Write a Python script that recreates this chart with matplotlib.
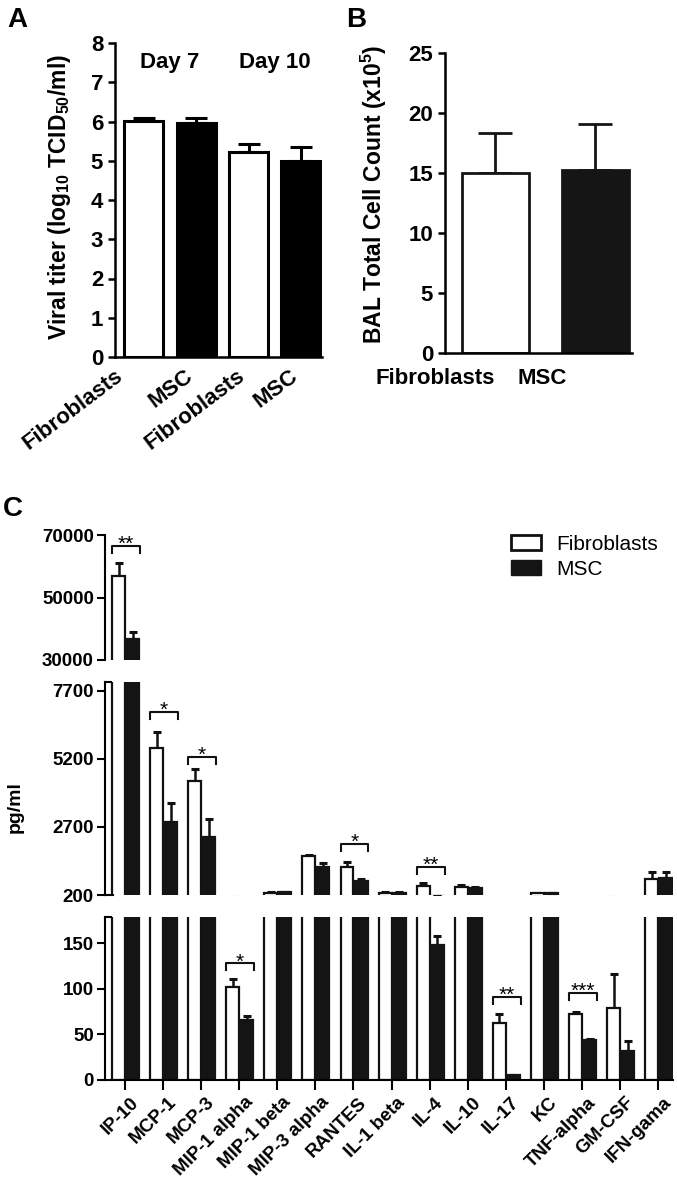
import matplotlib
matplotlib.use('Agg')
import matplotlib.pyplot as plt
import numpy as np
from matplotlib.patches import Patch
from matplotlib.transforms import ScaledTranslation

plt.rcParams.update({'font.family': ['Liberation Sans', 'DejaVu Sans'],
                     'font.weight': 'bold', 'axes.labelweight': 'bold',
                     'mathtext.default': 'regular',
                     'axes.linewidth': 1.8,
                     'xtick.major.width': 1.8, 'ytick.major.width': 1.8,
                     'xtick.direction': 'out', 'ytick.direction': 'out'})

# panel A - viral titer
a_labels = ['Fibroblasts', 'MSC', 'Fibroblasts', 'MSC']
a_values = [6.01, 5.97, 5.22, 4.99]
a_errors = [0.08, 0.12, 0.20, 0.37]
a_days = ['Day 7', 'Day 10']

# panel B - BAL cell count
b_labels = ['Fibroblasts', 'MSC']
b_values = [15.0, 15.25]
b_errors = [3.3, 3.85]

# panel C - cytokines (pg/ml)
c_cats = ['IP-10', 'MCP-1', 'MCP-3', 'MIP-1 alpha', 'MIP-1 beta', 'MIP-3 alpha',
          'RANTES', 'IL-1 beta', 'IL-4', 'IL-10', 'IL-17', 'KC', 'TNF-alpha',
          'GM-CSF', 'IFN-gama']
c_fib = [57000, 5600, 4390, 102, 280, 1630, 1230, 290, 530, 490, 63, 270, 72.5, 79, 800]
c_fib_err = [4000, 590, 440, 9, 20, 40, 180, 20, 110, 60, 9, 20, 2, 37, 240]
c_msc = [36600, 2880, 2330, 66, 300, 1230, 715, 280, 148, 450, 5, 260, 44, 32, 830]
c_msc_err = [2500, 700, 660, 4, 25, 140, 75, 20, 10, 40, 1, 20, 1, 11, 220]
# (category index, stars, bracket height)
c_sig = [(0, '**', 66500), (1, '*', 6930), (2, '*', 5270), (3, '*', 128),
         (6, '*', 2075), (8, '**', 1230), (10, '**', 91), (12, '***', 95.6)]

W, H = 677, 1182
fig = plt.figure(figsize=(W / 100, H / 100), dpi=100)


def box(x0, y0, x1, y1):
    return [x0 / W, 1 - y1 / H, (x1 - x0) / W, (y1 - y0) / H]


def px(dx, dy=0):
    return ScaledTranslation(dx / 100, dy / 100, fig.dpi_scale_trans)


# ---------------- A
axA = fig.add_axes(box(115, 43, 322, 357))
xa = np.arange(len(a_values))
axA.bar(xa, a_values, width=0.75, color=['white', 'black', 'white', 'black'],
        edgecolor='black', linewidth=2.2, zorder=2)
axA.errorbar(xa, a_values, yerr=[np.zeros(len(a_errors)), a_errors], fmt='none',
             ecolor='black', elinewidth=2.2, capsize=8, capthick=2.2, zorder=1)
axA.set_xlim(-0.55, 3.4)
axA.set_ylim(0, 8)
axA.set_yticks(range(0, 9))
axA.tick_params(labelsize=16, length=5)
axA.tick_params(axis='x', length=0, pad=6)
axA.set_xticks(xa)
axA.set_xticklabels(a_labels, rotation=37, ha='right', va='top', rotation_mode='anchor')
for lab, dx in zip(axA.get_xticklabels(), [-30, -12, -12, -12]):
    lab.set_transform(lab.get_transform() + px(dx))
for s in ['top', 'right']:
    axA.spines[s].set_visible(False)
for i, d in enumerate(a_days):
    axA.text(2 * i + 0.5, 7.5, d, ha='center', va='center', fontsize=16)
axA.set_ylabel(r'Viral titer (log$_{10}$ TCID$_{50}$/ml)', fontsize=16.5)
axA.yaxis.set_label_coords(-0.205, 0.51)

# ---------------- B
axB = fig.add_axes(box(445, 53, 632, 353))
xb = np.arange(len(b_values))
axB.bar(xb, b_values, width=0.67, color=['white', '#151515'],
        edgecolor='#151515', linewidth=2.0, zorder=2)
axB.errorbar(xb, b_values, yerr=[np.zeros(len(b_errors)), b_errors], fmt='none',
             ecolor='#151515', elinewidth=2.0, capsize=12, capthick=2.0, zorder=1)
axB.set_xlim(-0.5, 1.37)
axB.set_ylim(0, 25)
axB.set_yticks(range(0, 26, 5))
axB.tick_params(labelsize=16, length=5)
axB.tick_params(axis='x', length=0, pad=11)
axB.set_xticks(xb)
axB.set_xticklabels(b_labels, ha='right')
axB.get_xticklabels()[1].set_transform(axB.get_xticklabels()[1].get_transform() + px(-28))
for s in ['top', 'right']:
    axB.spines[s].set_visible(False)
axB.set_ylabel(r'BAL Total Cell Count (x10$^5$)', fontsize=16.5)
axB.yaxis.set_label_coords(-0.3, 0.53)

# ---------------- C (broken y axis)
segments = [(535, 660, 30000, 70000, [30000, 50000, 70000]),
            (682, 895, 200, 8030, [200, 2700, 5200, 7700]),
            (917, 1080, 0, 179, [0, 50, 100, 150])]
xc = np.arange(len(c_cats))
c_axes = []
for top, bot, lo, hi, ticks in segments:
    ax = fig.add_axes(box(105, top, 673, bot))
    ax.bar(xc - 0.17, c_fib, width=0.34, color='white', edgecolor='#111111',
           linewidth=1.6, zorder=2)
    ax.bar(xc + 0.2, c_msc, width=0.34, color='#141414', edgecolor='#141414',
           linewidth=1.6, zorder=2)
    ax.errorbar(xc - 0.17, c_fib, yerr=[np.zeros(len(c_fib)), c_fib_err], fmt='none',
                ecolor='#111111', elinewidth=1.8, capsize=3, capthick=2.2, zorder=1)
    ax.errorbar(xc + 0.2, c_msc, yerr=[np.zeros(len(c_msc)), c_msc_err], fmt='none',
                ecolor='#111111', elinewidth=1.8, capsize=3, capthick=2.2, zorder=1)
    ax.set_xlim(-0.525, 14.39)
    ax.set_ylim(lo, hi)
    ax.set_yticks(ticks)
    ax.tick_params(labelsize=13.5, length=6, width=1.5, pad=2)
    for s in ['top', 'right']:
        ax.spines[s].set_visible(False)
    ax.spines['left'].set_linewidth(1.5)
    ax.spines['bottom'].set_linewidth(1.5)
    c_axes.append((ax, lo, hi, bot - top))

ax_top, ax_mid, ax_bot = [c[0] for c in c_axes]
for ax in (ax_top, ax_mid):
    ax.spines['bottom'].set_visible(False)
    ax.set_xticks([])
ax_bot.set_xticks(xc)
ax_bot.tick_params(axis='x', length=7, pad=3)
ax_bot.set_xticklabels(c_cats, rotation=45, ha='right', va='top',
                       rotation_mode='anchor', fontsize=13.5)
for lab in ax_bot.get_xticklabels():
    lab.set_transform(lab.get_transform() + px(5))

# little hooks at the axis breaks
seg_w = 673 - 105
ax_mid.plot([0, 6 / seg_w], [1, 1], transform=ax_mid.transAxes, color='black', lw=1.5, clip_on=False)
ax_mid.plot([0, 8 / seg_w], [0, 0], transform=ax_mid.transAxes, color='black', lw=1.5, clip_on=False)
ax_bot.plot([0, 6 / seg_w], [1, 1], transform=ax_bot.transAxes, color='black', lw=1.5, clip_on=False)

# significance brackets
for i, stars, yb in c_sig:
    for ax, lo, hi, hpx in c_axes:
        if lo <= yb <= hi:
            leg = 7 * (hi - lo) / hpx
            ax.plot([i - 0.34, i - 0.34, i + 0.39, i + 0.39], [yb - leg, yb, yb, yb - leg],
                    color='#111111', lw=1.5, clip_on=False, zorder=3)
            ax.annotate(stars, xy=(i + 0.02, yb), xytext=(0, -3), textcoords='offset points',
                        ha='center', va='baseline', fontsize=15, fontweight='normal')
            break

fig.text(15 / W, 1 - 807 / H, 'pg/ml', rotation=90, ha='center', va='center', fontsize=14)

handles = [Patch(facecolor='white', edgecolor='#111111', linewidth=2),
           Patch(facecolor='#141414', edgecolor='#141414')]
fig.legend(handles, ['Fibroblasts', 'MSC'], loc='upper left',
           bbox_to_anchor=(511 / W, 1 - 535 / H), frameon=False,
           prop={'weight': 'normal', 'size': 15}, handlelength=1.44, handleheight=0.72,
           handletextpad=0.72, labelspacing=0.28, borderpad=0, borderaxespad=0)

# panel letters
fig.text(7 / W, 1 - 27 / H, 'A', fontsize=20, va='baseline')
fig.text(346 / W, 1 - 27 / H, 'B', fontsize=20, va='baseline')
fig.text(3 / W, 1 - 516 / H, 'C', fontsize=20, va='baseline')

fig.savefig('out.png', dpi=100)
